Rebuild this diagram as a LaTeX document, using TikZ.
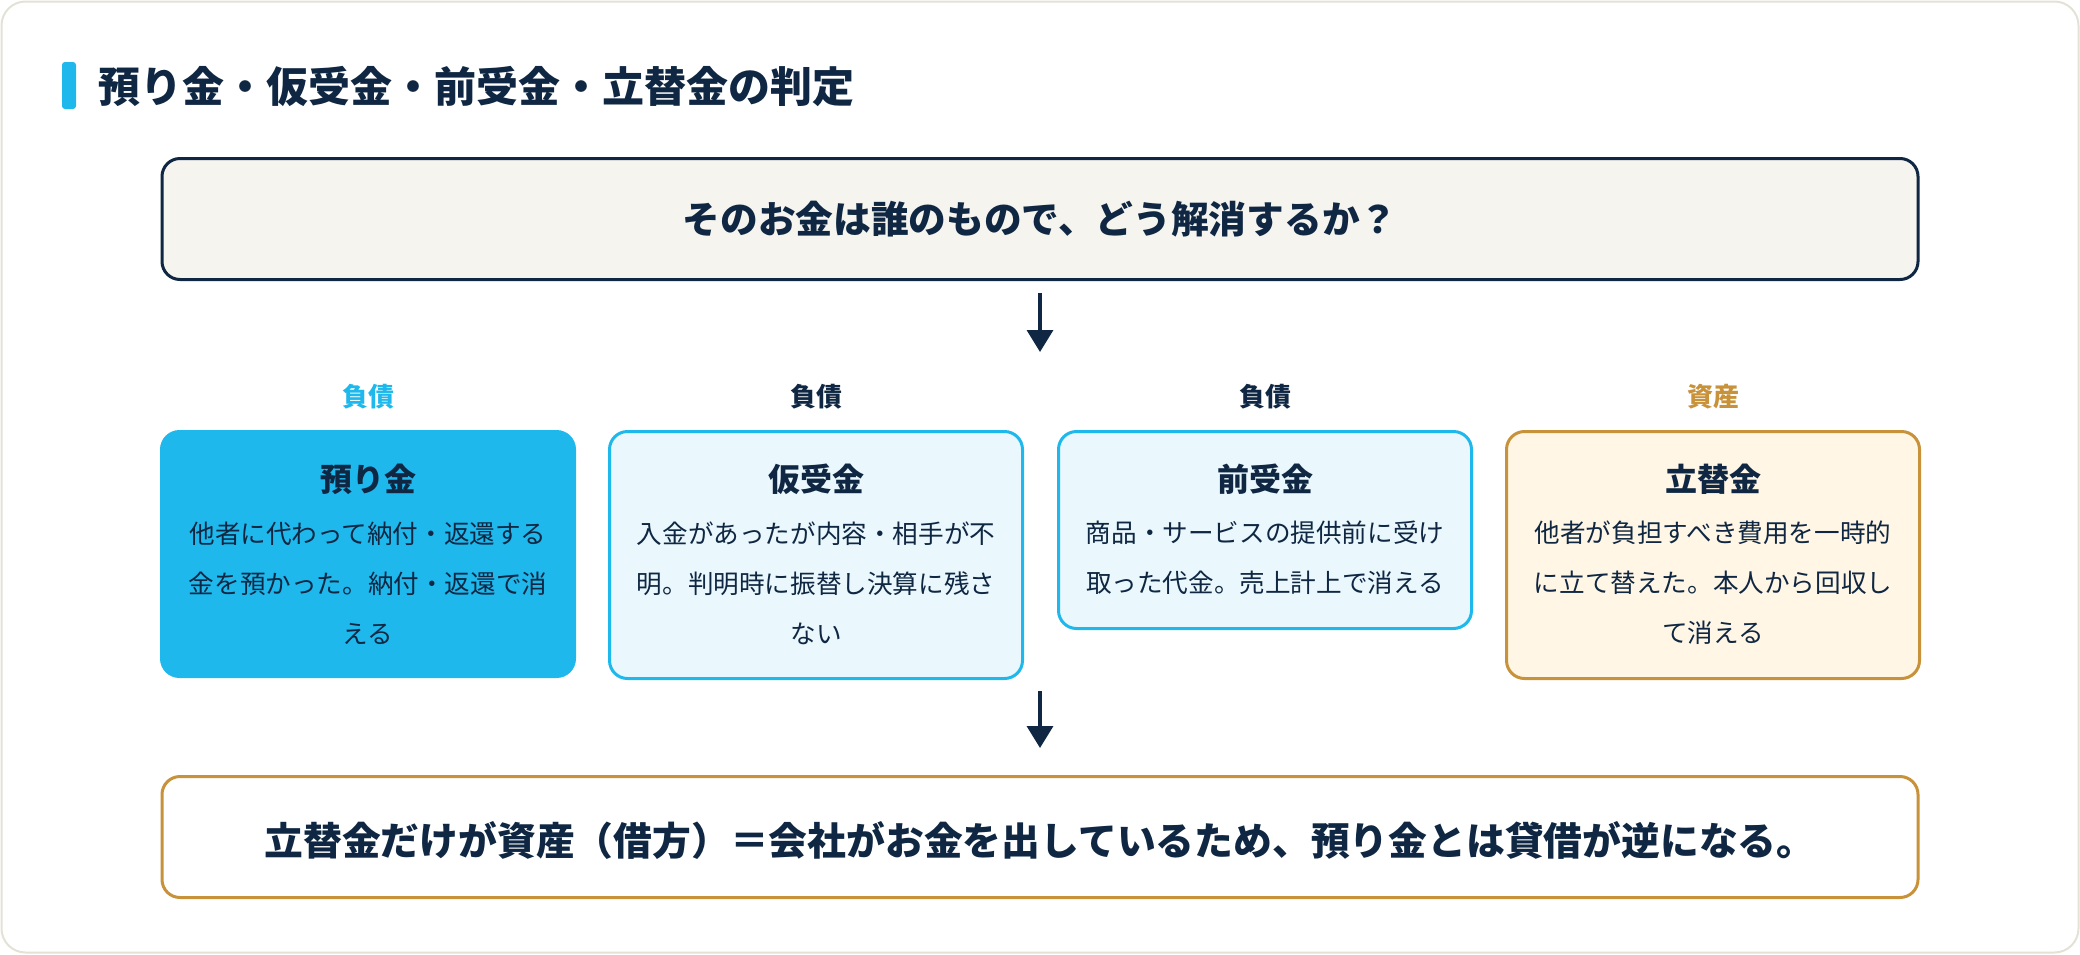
\documentclass[tikz,border=0pt]{standalone}
\usepackage{fontspec}
\setmainfont{Noto Sans CJK JP}
\usetikzlibrary{arrows.meta}

\definecolor{navy}{HTML}{0F2742}
\definecolor{sky}{HTML}{1EB8EC}
\definecolor{skyfill}{HTML}{EAF8FD}
\definecolor{gold}{HTML}{C8923A}
\definecolor{goldfill}{HTML}{FFF6E5}
\definecolor{paper}{HTML}{F5F4EF}
\definecolor{framegray}{HTML}{E4E2D6}

\begin{document}
\begin{tikzpicture}[x=1pt,y=-1pt,
    every node/.style={text=navy, inner sep=0pt},
    banner/.style={rounded corners=18pt, line width=3pt, minimum width=1756pt, minimum height=121pt},
    card/.style={rounded corners=18pt, line width=3pt, minimum width=413pt, anchor=north},
    kind/.style={font=\fontsize{26}{30}\selectfont\bfseries},
    cardtitle/.style={font=\fontsize{32}{36}\selectfont\bfseries},
    cardbody/.style={font=\fontsize{25.6}{50}\selectfont, align=center},
    flow/.style={draw=navy, line width=3.5pt, -{Triangle[length=22pt,width=26pt]}}]
    \useasboundingbox (0,0) rectangle (2080,954);
    \draw[framegray, line width=2pt, fill=white, rounded corners=24pt] (1.5,1.5) rectangle (2078.5,952.5);

    % heading
    \fill[sky, rounded corners=3pt] (62,62) rectangle (76,109);
    \node[anchor=west, font=\fontsize{42}{46}\selectfont\bfseries] (heading) at (98,87)
    {預り金・仮受金・前受金・立替金の判定};

    % question and conclusion
    \node[banner, draw=navy, fill=paper] (question) at (1040,219) {};
    \node[font=\fontsize{37.7}{40}\selectfont\bfseries] (qtext) at (question.center)
    {そのお金は誰のもので、どう解消するか？};

    \node[banner, draw=gold, fill=white] (result) at (1040,837) {};
    \node[font=\fontsize{38.8}{42}\selectfont\bfseries] (rtext) at (1040,840)
    {立替金だけが資産（借方）＝会社がお金を出しているため、預り金とは貸借が逆になる。};

    % four accounts
    \node[kind, text=sky] (k1) at (368,397) {負債};
    \node[kind] (k2) at (816,397) {負債};
    \node[kind] (k3) at (1265,397) {負債};
    \node[kind, text=gold] (k4) at (1713,397) {資産};

    \node[card, draw=sky, fill=sky, minimum height=245pt] (azukari) at (368,430) {};
    \node[card, draw=sky, fill=skyfill, minimum height=247pt] (kariuke) at (816,430) {};
    \node[card, draw=sky, fill=skyfill, minimum height=197pt] (maeuke) at (1265,430) {};
    \node[card, draw=gold, fill=goldfill, minimum height=247pt] (tatekae) at (1713,430) {};

    \node[cardtitle] (t1) at (368,479) {預り金};
    \node[cardtitle] (t2) at (816,479) {仮受金};
    \node[cardtitle] (t3) at (1265,479) {前受金};
    \node[cardtitle] (t4) at (1713,479) {立替金};

    \node[cardbody] (b1) at (368,583) {他者に代わって納付・返還する\\金を預かった。納付・返還で消\\える};
    \node[cardbody] (b2) at (816,583) {入金があったが内容・相手が不\\明。判明時に振替し決算に残さ\\ない};
    \node[cardbody] (b3) at (1265,558) {商品・サービスの提供前に受け\\取った代金。売上計上で消える};
    \node[cardbody] (b4) at (1713,583) {他者が負担すべき費用を一時的\\に立て替えた。本人から回収し\\て消える};

    % arrows
    \coordinate (split) at (1040,352);
    \coordinate (join) at (1040,691);
    \draw[flow, shorten <=12pt] (question.south) -- (split);
    \draw[flow, shorten >=27pt] (join) -- (result.north);
\end{tikzpicture}
\end{document}
